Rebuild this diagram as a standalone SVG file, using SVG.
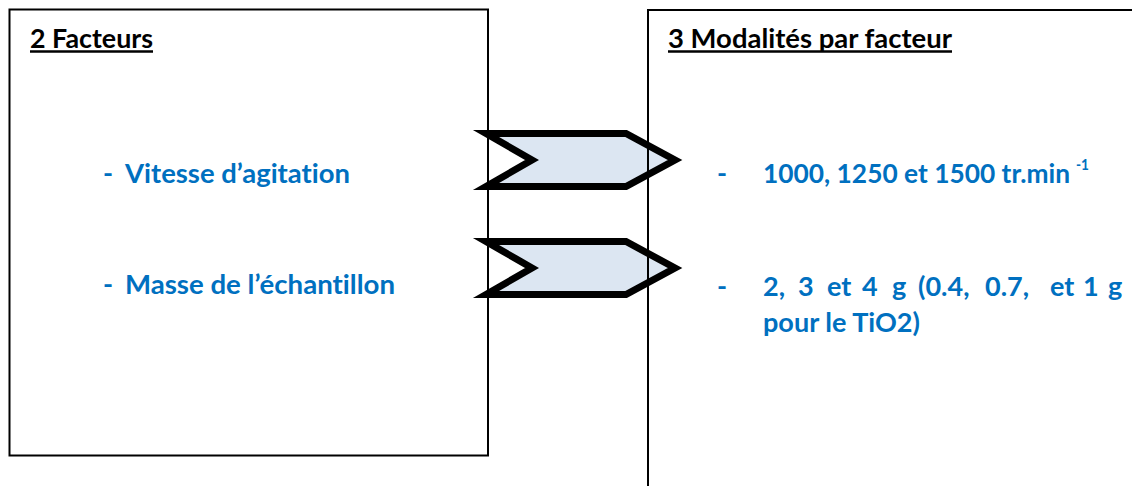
<svg xmlns="http://www.w3.org/2000/svg" width="1132" height="486" viewBox="0 0 1132 486">
<style>
.box{fill:none;stroke:#000;stroke-width:2}
.chev{fill:#dce6f2;stroke:#000;stroke-width:7;stroke-linejoin:miter;stroke-miterlimit:10}
.t{font-family:Lato,"Open Sans","Liberation Sans",sans-serif;font-weight:bold;font-size:27px;font-variant-ligatures:none}
.head{fill:#000}
.blue{fill:#0070c0}
.ul{stroke:#000;stroke-width:2.5}
</style>
<rect width="1132" height="486" fill="#fff"/>
<g id="connectors">
<polygon class="chev" points="486,133.5 626,133.5 675,160 626,186.5 486,186.5 532,160"/>
<polygon class="chev" points="486,241.5 626,241.5 675,268 626,294.5 486,294.5 532,268"/>
</g>
<g id="node-facteurs">
<rect class="box" x="9.5" y="9.5" width="478.5" height="446"/>
<text class="t head" x="30" y="48" textLength="123" lengthAdjust="spacingAndGlyphs">2 Facteurs</text>
<line class="ul" x1="30" y1="51.5" x2="153" y2="51.5"/>
<text class="t blue" x="103" y="183">-</text>
<text class="t blue" x="125" y="183" textLength="225" lengthAdjust="spacingAndGlyphs">Vitesse d’agitation</text>
<text class="t blue" x="103" y="294">-</text>
<text class="t blue" x="125" y="294" textLength="270" lengthAdjust="spacingAndGlyphs">Masse de l’échantillon</text>
</g>
<g id="node-modalites">
<path class="box" d="M648,486 V10 H1132"/>
<text class="t head" x="668" y="48" textLength="284" lengthAdjust="spacingAndGlyphs">3 Modalités par facteur</text>
<line class="ul" x1="668" y1="51.5" x2="952" y2="51.5"/>
<text class="t blue" x="717" y="183">-</text>
<text class="t blue" x="763" y="183" textLength="307" lengthAdjust="spacingAndGlyphs">1000, 1250 et 1500 tr.min</text>
<text class="t blue" x="1076" y="170" style="font-size:16px" textLength="13" lengthAdjust="spacingAndGlyphs">-1</text>
<text class="t blue" x="717" y="296">-</text>
<text class="t blue" y="296"><tspan x="763">2,</tspan><tspan x="798">3</tspan><tspan x="827">et</tspan><tspan x="862">4</tspan><tspan x="892">g</tspan><tspan x="918">(0.4,</tspan><tspan x="985">0.7,</tspan><tspan x="1050">et</tspan><tspan x="1083">1</tspan><tspan x="1108">g</tspan></text>
<text class="t blue" x="763" y="332" textLength="157" lengthAdjust="spacingAndGlyphs">pour le TiO2)</text>
</g>
</svg>
